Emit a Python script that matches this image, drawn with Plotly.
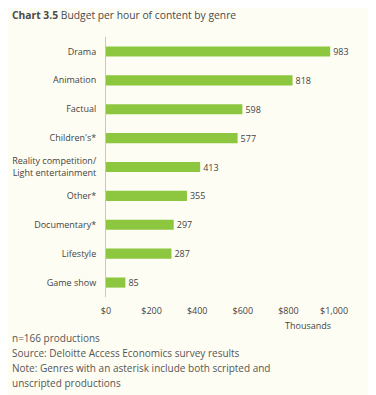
import plotly.graph_objects as go

genres = ["Drama", "Animation", "Factual", "Children's*",
          "Reality competition/<br>Light entertainment", "Other*",
          "Documentary*", "Lifestyle", "Game show"]
budget_thousands = [983, 818, 598, 577, 413, 355, 297, 287, 85]
tick_vals = [0, 200, 400, 600, 800, 1000]
tick_text = ["$0", "$200", "$400", "$600", "$800", "$1,000"]

OFF = 8  # page body margin
W, H = 376 - OFF, 395 - OFF
L, R, T, B = 106 - OFF, 31, 37 - OFF, 98
pw, ph = W - L - R, H - T - B
BG = "#FEFDF3"
FONT = "Open Sans, sans-serif"


def px_x(x):
    return (x - OFF - L) / pw


def px_y(y):
    return 1 - (y - OFF - T) / ph


fig = go.Figure(go.Bar(
    x=budget_thousands, y=genres, orientation="h",
    marker=dict(color="#8DC63F", line=dict(width=0)),
    width=0.35,
    text=[str(v) for v in budget_thousands], textposition="outside",
    constraintext="none",
    textfont=dict(size=9, color="#444", family=FONT),
    cliponaxis=False,
))

fig.update_layout(
    width=W, height=H,
    margin=dict(l=L, r=R, t=T, b=B, autoexpand=False),
    paper_bgcolor=BG, plot_bgcolor=BG,
    font=dict(family=FONT, color="#444", size=9),
    showlegend=False,
    xaxis=dict(range=[0, 1048], tickvals=tick_vals, ticktext=tick_text,
               showgrid=False, zeroline=False, showline=False, automargin=False,
               ticks="outside", ticklen=5, tickcolor="rgba(0,0,0,0)",
               tickfont=dict(size=9, color="#444"), fixedrange=True),
    yaxis=dict(autorange="reversed", showgrid=False, zeroline=False, automargin=False,
               showline=True, linecolor="#C8C8C0", linewidth=1,
               ticks="outside", ticklen=7, tickcolor="rgba(0,0,0,0)",
               tickfont=dict(size=9, color="#444"), fixedrange=True),
)

ann = [
    dict(text="<b>Chart 3.5</b> Budget per hour of content by genre",
         x=px_x(10), y=px_y(15), font=dict(size=10.3, color="#4a4a4a")),
    dict(text="Thousands", x=px_x(308), y=px_y(325), xanchor="center",
         font=dict(size=9, color="#444")),
    dict(text="n=166 productions", x=px_x(10), y=px_y(338),
         font=dict(size=10, color="#555")),
    dict(text="Source: Deloitte Access Economics survey results", x=px_x(10), y=px_y(353),
         font=dict(size=10, color="#555")),
    dict(text="Note: Genres with an asterisk include both scripted and", x=px_x(10), y=px_y(368),
         font=dict(size=10, color="#555")),
    dict(text="unscripted productions", x=px_x(10), y=px_y(383),
         font=dict(size=10, color="#555")),
]
for a in ann:
    a.setdefault("xanchor", "left")
    fig.add_annotation(xref="paper", yref="paper", yanchor="middle",
                       showarrow=False, **a)

fig.write_html("out.html")
